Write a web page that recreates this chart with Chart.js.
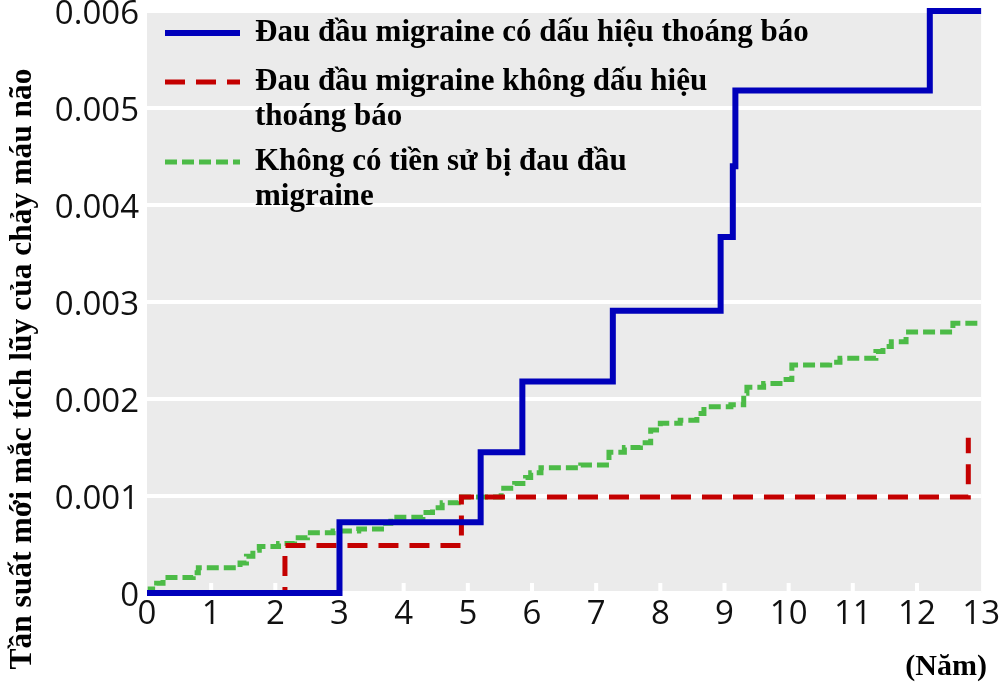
<!DOCTYPE html>
<html>
<head>
<meta charset="utf-8">
<script src="https://cdn.jsdelivr.net/npm/chart.js@4/dist/chart.umd.min.js"></script>
<style>
html,body{margin:0;padding:0;background:#fff;}
#wrap{width:1002px;height:692px;}
</style>
</head>
<body>
<div id="wrap"><canvas id="c" width="1002" height="692"></canvas></div>
<script>
// ---- data ----
const xTicks = [0,1,2,3,4,5,6,7,8,9,10,11,12,13];
const yTicks = [0,0.001,0.002,0.003,0.004,0.005,0.006];

const seriesLabels = [
  ["Đau đầu migraine có dấu hiệu thoáng báo"],
  ["Đau đầu migraine không dấu hiệu", "thoáng báo"],
  ["Không có tiền sử bị đau đầu", "migraine"]
];

const auraX = [0, 3.0, 5.2, 5.85, 7.26, 8.94, 9.13, 9.17, 12.2, 13];
const auraY = [0, 0.00073, 0.00145, 0.00218, 0.00291, 0.00367, 0.0044, 0.00518, 0.006, 0.006];

const noAuraX = [0, 2.15, 4.9, 12.8, 12.8];
const noAuraY = [0, 0.00049, 0.00099, 0.00099, 0.0016];

const noneX = [0, 0.05, 0.15, 0.25, 0.72, 0.8, 1.45, 1.55, 1.65, 1.75, 2.05, 2.3, 2.5, 2.9, 3.3, 3.72, 3.8, 4.3, 4.45, 4.6, 4.85, 5.52, 5.73, 5.9, 5.98, 6.14, 6.76, 7.2, 7.44, 7.69, 7.85, 8.0, 8.31, 8.57, 8.68, 9.1, 9.3, 9.35, 9.61, 9.92, 10.05, 10.64, 10.8, 11.36, 11.47, 11.6, 11.83, 12.56, 13];
const noneY = [0, 0.00004, 0.0001, 0.00016, 0.00021, 0.00026, 0.00031, 0.00038, 0.00044, 0.00048, 0.00051, 0.00057, 0.00062, 0.00064, 0.00066, 0.00072, 0.00078, 0.00083, 0.00088, 0.00093, 0.00099, 0.00108, 0.00113, 0.00119, 0.00124, 0.00129, 0.00132, 0.00145, 0.0015, 0.00155, 0.00168, 0.00175, 0.00178, 0.00185, 0.00192, 0.00194, 0.00206, 0.00212, 0.00216, 0.0022, 0.00235, 0.00238, 0.00242, 0.00249, 0.00254, 0.00259, 0.00269, 0.00278, 0.00278];

const yTitle = "Tần suất mới mắc tích lũy của chảy máu não";
const xTitle = "(Năm)";

// ---- build ----
function pts(xs, ys){ return xs.map((x,i)=>({x:x, y:ys[i]})); }

const colors = ['#0000bb', '#c40000', '#4cbb47'];
const dashes = [[], [20,11], [12,5]];
const widths = [6, 5, 5];

const datasets = [
  {label: seriesLabels[0].join(' '), data: pts(auraX, auraY)},
  {label: seriesLabels[1].join(' '), data: pts(noAuraX, noAuraY)},
  {label: seriesLabels[2].join(' '), data: pts(noneX, noneY)}
].map((d,i)=>Object.assign(d, {
  borderColor: colors[i], backgroundColor: colors[i], borderWidth: widths[i],
  borderDash: dashes[i], stepped: true, pointRadius: 0, fill: false,
  borderCapStyle: 'butt', borderJoinStyle: 'miter', clip: false, order: i
}));

const serif = '"Liberation Serif", "Times New Roman", serif';

const decor = {
  id: 'decor',
  beforeDraw(chart){
    const {ctx, chartArea:a} = chart;
    ctx.save();
    ctx.fillStyle = '#ebebeb';
    ctx.fillRect(a.left, a.top - 2, a.right - a.left, a.bottom - a.top + 2);
    ctx.restore();
  },
  beforeDatasetsDraw(chart){
    const {ctx, chartArea:a, scales} = chart;
    ctx.save();
    ctx.fillStyle = '#ffffff';
    xTicks.forEach(v=>{
      if (v === 0 || v === 13) return;
      const px = scales.x.getPixelForValue(v);
      ctx.fillRect(px - 2, a.bottom - 10, 4, 10);
    });
    ctx.restore();
  },
  afterDraw(chart){
    const {ctx} = chart;
    ctx.save();
    // legend
    ctx.font = 'bold 31px ' + serif;
    ctx.textBaseline = 'middle';
    ctx.fillStyle = '#000';
    const legendY = [33, 82, 162];
    seriesLabels.forEach((lines, i)=>{
      const y = legendY[i];
      ctx.strokeStyle = colors[i];
      ctx.lineWidth = widths[i];
      ctx.setLineDash(dashes[i]);
      ctx.beginPath();
      ctx.moveTo(165, y); ctx.lineTo(240, y);
      ctx.stroke();
      ctx.setLineDash([]);
      lines.forEach((t, k)=>{
        ctx.fillText(t, 255, y + k*35);
      });
    });
    // y title
    ctx.save();
    ctx.translate(23, 369);
    ctx.rotate(-Math.PI/2);
    ctx.textAlign = 'center';
    ctx.textBaseline = 'middle';
    ctx.font = 'bold 31.5px ' + serif;
    ctx.fillText(yTitle, 0, 0);
    ctx.restore();
    // x title
    ctx.textAlign = 'right';
    ctx.textBaseline = 'middle';
    ctx.font = 'bold 30px ' + serif;
    ctx.fillText(xTitle, 987, 667);
    ctx.restore();
  }
};

new Chart(document.getElementById('c'), {
  type: 'line',
  data: {datasets: datasets},
  options: {
    responsive: false,
    animation: false,
    devicePixelRatio: 1,
    layout: {padding: {left: 0, right: 17, top: 11, bottom: 0}},
    plugins: {legend: {display: false}, tooltip: {enabled: false}},
    scales: {
      x: {
        type: 'linear', min: 0, max: 13,
        afterBuildTicks(s){ s.ticks = xTicks.map(v=>({value:v})); },
        afterFit(s){ s.height = 99; },
        grid: {display: false, drawTicks: false},
        border: {display: false},
        ticks: {color: '#111', padding: 2, font: {family: '"Open Sans", sans-serif', size: 33}}
      },
      y: {
        type: 'linear', min: 0, max: 0.006,
        afterBuildTicks(s){ s.ticks = yTicks.map(v=>({value:v})); },
        afterFit(s){ s.width = 147; s.paddingTop = 0; s.paddingBottom = 0; },
        grid: {color: '#ffffff', lineWidth: 4, drawTicks: false},
        border: {display: false},
        ticks: {
          color: '#111', padding: 8, labelOffset: 4,
          font: {family: '"Open Sans", sans-serif', size: 33, lineHeight: 0.6},
          callback: v => v === 0 ? '0' : v.toFixed(3)
        }
      }
    }
  },
  plugins: [decor]
});
</script>
</body>
</html>
